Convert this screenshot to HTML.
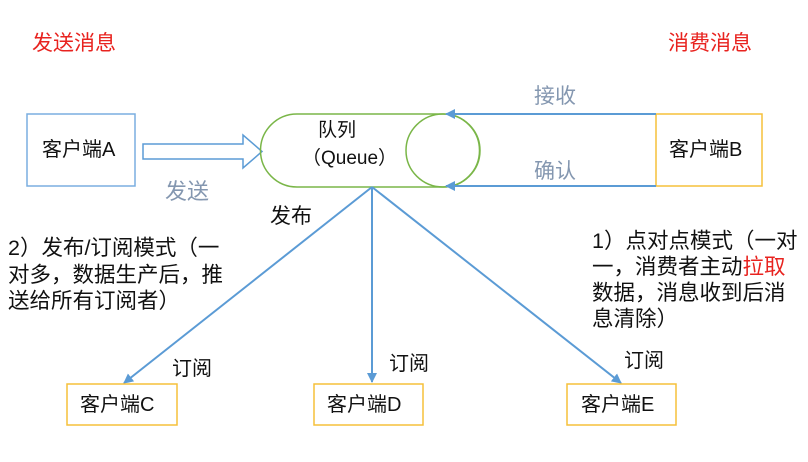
<!DOCTYPE html>
<html><head><meta charset="utf-8"><style>
body{margin:0;width:808px;height:462px;background:#fff;position:relative;overflow:hidden;font-family:"Liberation Sans","Noto Sans CJK SC",sans-serif;color:#111}
.t{position:absolute;white-space:nowrap;line-height:1}
</style></head><body>
<svg width="808" height="462" style="position:absolute;left:0;top:0">
<defs>
<marker id="a" markerWidth="10" markerHeight="10" refX="9" refY="5" orient="auto" markerUnits="userSpaceOnUse"><path d="M0,0 L10,5 L0,10 Z" fill="#5b9bd5"/></marker>
</defs>
<rect x="27" y="114" width="108" height="72" fill="none" stroke="#7aaee0" stroke-width="1.5"/>
<path d="M143,144 H243 V135 L262,151.5 L243,168 V159 H143 Z" fill="none" stroke="#5b9bd5" stroke-width="1.5"/>
<path d="M297,114 H443 A36.5,36.5 0 0 1 443,187 H297 A36.5,36.5 0 0 1 297,114 Z" fill="none" stroke="#7ab648" stroke-width="1.5"/>
<ellipse cx="443" cy="150.5" rx="37" ry="36.5" fill="none" stroke="#7ab648" stroke-width="1.5"/>
<rect x="656" y="114" width="106" height="72" fill="none" stroke="#f5c03a" stroke-width="1.5"/>
<line x1="656" y1="114" x2="446" y2="114" stroke="#5b9bd5" stroke-width="2" marker-end="url(#a)"/>
<line x1="656" y1="186" x2="446" y2="186" stroke="#5b9bd5" stroke-width="2" marker-end="url(#a)"/>
<line x1="372" y1="187" x2="124" y2="383" stroke="#5b9bd5" stroke-width="2" marker-end="url(#a)"/>
<line x1="372" y1="187" x2="372" y2="382" stroke="#5b9bd5" stroke-width="2" marker-end="url(#a)"/>
<line x1="372" y1="187" x2="621" y2="383" stroke="#5b9bd5" stroke-width="2" marker-end="url(#a)"/>
<rect x="67" y="384" width="110" height="41" fill="none" stroke="#f5c03a" stroke-width="1.5"/>
<rect x="314" y="384" width="109" height="41" fill="none" stroke="#f5c03a" stroke-width="1.5"/>
<rect x="567" y="384" width="109" height="41" fill="none" stroke="#f5c03a" stroke-width="1.5"/>
</svg>
<div class="t" style="left:32px;top:33px;font-size:21px;color:#e8231f">发送消息</div>
<div class="t" style="left:668px;top:33px;font-size:21px;color:#e8231f">消费消息</div>
<div class="t" style="left:42px;top:140px;font-size:20px">客户端A</div>
<div class="t" style="left:669px;top:140px;font-size:20px">客户端B</div>
<div class="t" style="left:318px;top:121px;font-size:19px">队列</div>
<div class="t" style="left:302px;top:149px;font-size:19px">（Queue）</div>
<div class="t" style="left:534px;top:86px;font-size:21px;color:#8497b0">接收</div>
<div class="t" style="left:534px;top:161px;font-size:21px;color:#8497b0">确认</div>
<div class="t" style="left:165px;top:181px;font-size:22px;color:#8497b0">发送</div>
<div class="t" style="left:270px;top:206px;font-size:21px">发布</div>
<div class="t" style="left:8px;top:238px;font-size:21.5px">2）发布/订阅模式（一</div>
<div class="t" style="left:8px;top:265px;font-size:21.5px">对多，数据生产后，推</div>
<div class="t" style="left:8px;top:291px;font-size:21.5px">送给所有订阅者）</div>
<div class="t" style="left:592px;top:231px;font-size:21.5px">1）点对点模式（一对</div>
<div class="t" style="left:592px;top:257px;font-size:21.5px">一，消费者主动<span style="color:#e8231f">拉取</span></div>
<div class="t" style="left:592px;top:283px;font-size:21.5px">数据，消息收到后消</div>
<div class="t" style="left:592px;top:309px;font-size:21.5px">息清除）</div>
<div class="t" style="left:172px;top:359px;font-size:20px">订阅</div>
<div class="t" style="left:389px;top:354px;font-size:20px">订阅</div>
<div class="t" style="left:624px;top:351px;font-size:20px">订阅</div>
<div class="t" style="left:80px;top:395px;font-size:20px">客户端C</div>
<div class="t" style="left:327px;top:395px;font-size:20px">客户端D</div>
<div class="t" style="left:581px;top:395px;font-size:20px">客户端E</div>
</body></html>
